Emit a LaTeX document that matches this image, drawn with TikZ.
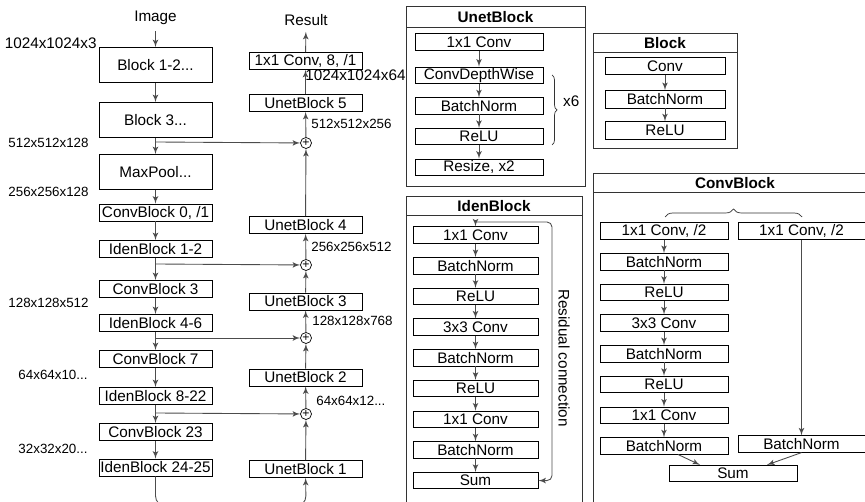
\documentclass[tikz,border=0pt]{standalone}
\usepackage{fontspec}
\setmainfont{Liberation Sans}
\usepackage{tikz}
\usetikzlibrary{arrows,positioning,calc,decorations.pathreplacing}
\newcommand{\boxfont}{\fontsize{8.7}{10}\selectfont}
\newcommand{\dimfont}{\fontsize{7.6}{9}\selectfont}

\begin{document}
\begin{tikzpicture}[x=0.02cm, y=-0.02cm]
  \tikzstyle{stage} = [rectangle, draw=black, minimum width=2.26cm, minimum height=0.34cm, inner sep=0pt, font=\boxfont]
  \tikzstyle{bigstage} = [stage, minimum height=0.7cm]
  \tikzstyle{layer} = [rectangle, draw=black, minimum width=2.56cm, minimum height=0.33cm, inner sep=0pt, font=\boxfont]
  \tikzstyle{adder} = [circle, draw=black, inner sep=0pt, minimum size=0.22cm, font=\fontsize{7}{7}\selectfont]
  \tikzstyle{line} = [draw=black!70, -latex', line width=0.5pt]
  \tikzstyle{dim} = [font=\dimfont, inner sep=0pt]
  \tikzstyle{panel} = [draw=black!80, line width=0.5pt]
  \tikzstyle{title} = [font=\boxfont\bfseries, inner sep=0pt]

  \useasboundingbox (0,0) rectangle (865,502);
  \clip (0,0) rectangle (865,502);

  % encoder column
  \node [font=\boxfont] (img) at (155.5,18) {Image};
  \node [bigstage] (b12) at (155.5,65) {Block 1-2...};
  \node [bigstage] (b3) at (155.5,120) {Block 3...};
  \node [bigstage] (mp) at (155.5,172) {MaxPool...};
  \node [stage] (cb0) at (155.5,212.5) {ConvBlock 0, /1};
  \node [stage] (ib12) at (155.5,249) {IdenBlock 1-2};
  \node [stage] (cb3) at (155.5,289) {ConvBlock 3};
  \node [stage] (ib46) at (155.5,323) {IdenBlock 4-6};
  \node [stage] (cb7) at (155.5,359) {ConvBlock 7};
  \node [stage] (ib822) at (155.5,396) {IdenBlock 8-22};
  \node [stage] (cb23) at (155.5,432) {ConvBlock 23};
  \node [stage] (ib2425) at (155.5,467.5) {IdenBlock 24-25};

  \node [dim, font=\boxfont, anchor=east] (d0) at (97,43) {1024x1024x3};
  \node [dim] (d1) at (48.5,143) {512x512x128};
  \node [dim] (d2) at (48.5,192) {256x256x128};
  \node [dim] (d3) at (48.5,303) {128x128x512};
  \node [dim] (d4) at (53,375) {64x64x10...};
  \node [dim] (d5) at (53,449) {32x32x20...};

  % decoder column
  \node [font=\boxfont] (res) at (306,20) {Result};
  \node [stage] (c11) at (305.5,61) {1x1 Conv, 8, /1};
  \node [stage] (u5) at (305.5,103) {UnetBlock 5};
  \node [adder] (p5) at (306,143) {+};
  \node [stage] (u4) at (305.5,225) {UnetBlock 4};
  \node [adder] (p4) at (306,265) {+};
  \node [stage] (u3) at (305.5,301.5) {UnetBlock 3};
  \node [adder] (p3) at (306,338) {+};
  \node [stage] (u2) at (305.5,377.5) {UnetBlock 2};
  \node [adder] (p2) at (306,414) {+};
  \node [stage] (u1) at (305.5,469) {UnetBlock 1};

  \node [dim, font=\boxfont, anchor=west] (e0) at (305,75) {1024x1024x64};
  \node [dim, anchor=west] (e1) at (311,124) {512x512x256};
  \node [dim, anchor=west] (e2) at (311,247) {256x256x512};
  \node [dim, anchor=west] (e3) at (312,321) {128x128x768};
  \node [dim, anchor=west] (e4) at (316,401) {64x64x12...};

  % skip taps
  \coordinate (s5) at (155.5,142);
  \coordinate (s4) at (155.5,264);
  \coordinate (s3) at (155.5,338);
  \coordinate (s2) at (155.5,413);

  \path [line] (img) -- (b12);
  \path [line] (b12) -- (b3);
  \path [line] (b3) -- (mp);
  \path [line] (mp) -- (cb0);
  \path [line] (cb0) -- (ib12);
  \path [line] (ib12) -- (cb3);
  \path [line] (cb3) -- (ib46);
  \path [line] (ib46) -- (cb7);
  \path [line] (cb7) -- (ib822);
  \path [line] (ib822) -- (cb23);
  \path [line] (cb23) -- (ib2425);

  \path [line] (s5) -- (p5);
  \path [line] (s4) -- (p4);
  \path [line] (s3) -- (p3);
  \path [line] (s2) -- (p2);

  \path [line, rounded corners=0.2cm] (ib2425) -- (155.5,506) -- (306,506) -- (u1);
  \path [line] (u1) -- (p2);
  \path [line] (p2) -- (u2);
  \path [line] (u2) -- (p3);
  \path [line] (p3) -- (u3);
  \path [line] (u3) -- (p4);
  \path [line] (p4) -- (u4);
  \path [line] (u4) -- (p5);
  \path [line] (p5) -- (u5);
  \path [line] (u5) -- (c11);
  \path [line] (c11) -- (res);

  % UnetBlock
  \draw [panel] (406,6) rectangle (585,186);
  \draw [panel] (406,27) -- (585,27);
  \node [title] (tu) at (495.5,17) {UnetBlock};
  \node [layer] (uc1) at (479,42) {1x1 Conv};
  \node [layer, below=0.32cm of uc1] (udw) {ConvDepthWise};
  \node [layer, below=0.27cm of udw] (ubn) {BatchNorm};
  \node [layer, below=0.27cm of ubn] (url) {ReLU};
  \node [layer, below=0.27cm of url] (urs) {Resize, x2};
  \path [line] (uc1) -- (udw);
  \path [line] (udw) -- (ubn);
  \path [line] (ubn) -- (url);
  \path [line] (url) -- (urs);
  \draw [black!80, decorate, decoration={brace, amplitude=0.1cm}] (552,75) -- (552,145);
  \node [font=\boxfont, anchor=west] (rep) at (557,101) {x6};

  % Block
  \draw [panel] (593,33) rectangle (737,148);
  \draw [panel] (593,52) -- (737,52);
  \node [title] (tb) at (665,43) {Block};
  \node [layer, minimum width=2.4cm, minimum height=0.35cm] (bc) at (665,66) {Conv};
  \node [layer, minimum width=2.4cm, minimum height=0.35cm, below=0.3cm of bc] (bbn) {BatchNorm};
  \node [layer, minimum width=2.4cm, minimum height=0.35cm, below=0.26cm of bbn] (brl) {ReLU};
  \path [line] (bc) -- (bbn);
  \path [line] (bbn) -- (brl);

  % IdenBlock
  \draw [panel] (406,196) rectangle (582,512);
  \draw [panel] (406,215) -- (582,215);
  \node [title] (ti) at (494,206) {IdenBlock};
  \node [layer, minimum width=2.5cm] (ic1) at (475.5,235) {1x1 Conv};
  \node [layer, minimum width=2.5cm, below=0.27cm of ic1] (ibn1) {BatchNorm};
  \node [layer, minimum width=2.5cm, below=0.27cm of ibn1] (irl1) {ReLU};
  \node [layer, minimum width=2.5cm, below=0.27cm of irl1] (ic3) {3x3 Conv};
  \node [layer, minimum width=2.5cm, below=0.27cm of ic3] (ibn2) {BatchNorm};
  \node [layer, minimum width=2.5cm, below=0.27cm of ibn2] (irl2) {ReLU};
  \node [layer, minimum width=2.5cm, below=0.27cm of irl2] (ic4) {1x1 Conv};
  \node [layer, minimum width=2.5cm, below=0.27cm of ic4] (ibn3) {BatchNorm};
  \node [layer, minimum width=2.5cm, below=0.27cm of ibn3] (isum) {Sum};
  \coordinate (itop) at (475.5,222);
  \path [line] (itop) -- (ic1);
  \path [line] (ic1) -- (ibn1);
  \path [line] (ibn1) -- (irl1);
  \path [line] (irl1) -- (ic3);
  \path [line] (ic3) -- (ibn2);
  \path [line] (ibn2) -- (irl2);
  \path [line] (irl2) -- (ic4);
  \path [line] (ic4) -- (ibn3);
  \path [line] (ibn3) -- (isum);
  \path [line, rounded corners=0.1cm] (itop) -- (552,222) |- (isum);
  \node [font=\boxfont, rotate=-90] (resid) at (564,358) {Residual connection};

  % ConvBlock
  \draw [panel] (593,173) rectangle (877,512);
  \draw [panel] (593,192) -- (877,192);
  \node [title] (tc) at (735,183) {ConvBlock};
  \draw [black!80, decorate, decoration={brace, amplitude=0.16cm}] (665,217) -- (802,217);
  \node [layer] (cc1) at (664,231) {1x1 Conv, /2};
  \node [layer, below=0.27cm of cc1] (cbn1) {BatchNorm};
  \node [layer, below=0.27cm of cbn1] (crl1) {ReLU};
  \node [layer, below=0.27cm of crl1] (cc3) {3x3 Conv};
  \node [layer, below=0.27cm of cc3] (cbn2) {BatchNorm};
  \node [layer, below=0.27cm of cbn2] (crl2) {ReLU};
  \node [layer, below=0.27cm of crl2] (cc4) {1x1 Conv};
  \node [layer, below=0.27cm of cc4] (cbn3) {BatchNorm};
  \node [layer, minimum width=2.54cm] (csc) at (801.5,231) {1x1 Conv, /2};
  \node [layer, minimum width=2.54cm] (csbn) at (801.5,444) {BatchNorm};
  \node [layer] (csum) at (733,473.5) {Sum};
  \path [line] (cc1) -- (cbn1);
  \path [line] (cbn1) -- (crl1);
  \path [line] (crl1) -- (cc3);
  \path [line] (cc3) -- (cbn2);
  \path [line] (cbn2) -- (crl2);
  \path [line] (crl2) -- (cc4);
  \path [line] (cc4) -- (cbn3);
  \path [line] (csc) -- (csbn);
  \path [line] ([xshift=0.28cm]cbn3.south) -- ([xshift=-0.66cm]csum.north);
  \path [line] (csbn.south) -- ([xshift=0.68cm]csum.north);
\end{tikzpicture}
\end{document}
